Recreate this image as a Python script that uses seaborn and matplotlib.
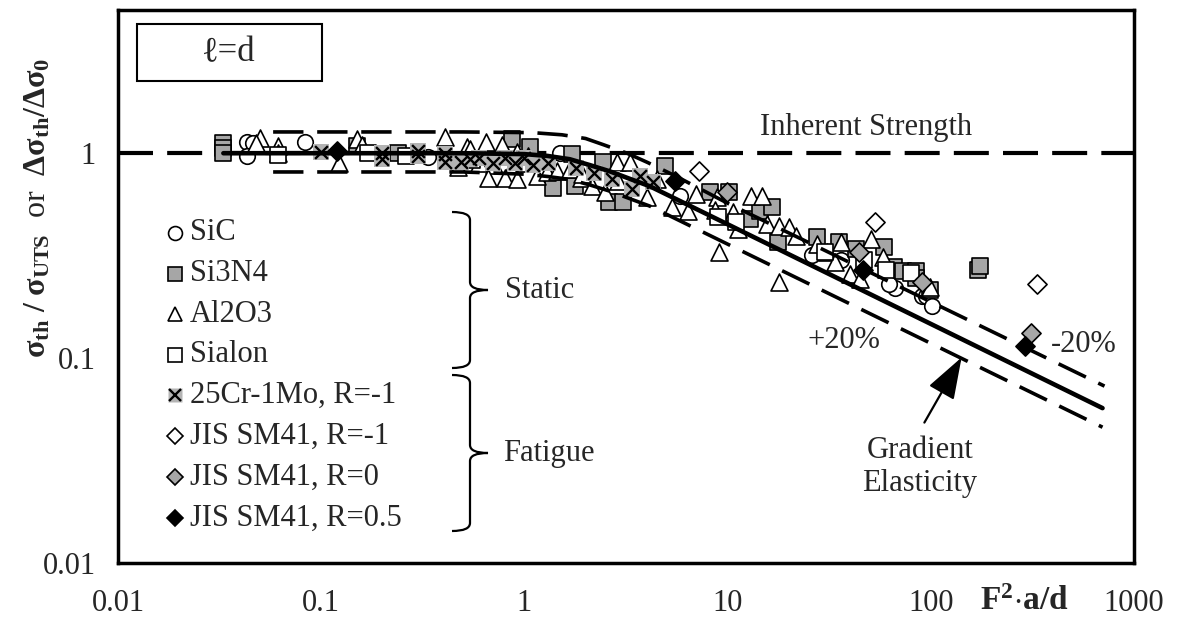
import numpy as np
import pandas as pd
import matplotlib
matplotlib.use('Agg')
import matplotlib.pyplot as plt
from matplotlib.path import Path
from matplotlib.patches import PathPatch, Rectangle
from matplotlib.lines import Line2D
import seaborn as sns

# ---- data (F^2 a/d , normalised strength) ----
sic_x = [0.043, 0.046, 0.043, 0.083, 0.335, 1.49, 5.8, 26, 36, 67, 90, 95, 101, 62]
sic_y = [1.14, 1.12, 0.97, 1.13, 0.96, 1.0, 0.62, 0.32, 0.30, 0.22, 0.20, 0.20, 0.18, 0.23]

si3n4_x = [0.033, 0.033, 0.033, 0.15, 0.24, 0.87, 1.06, 1.71, 1.38, 1.78, 2.43, 2.6, 3.05,
           4.9, 8.2, 10.2, 12.9, 14.4, 16.6, 17.7, 27.4, 35.5, 43, 59, 66, 72.6, 85, 85,
           98.6, 170, 175]
si3n4_y = [1.12, 1.06, 1.0, 1.08, 1.0, 1.17, 1.07, 0.99, 0.68, 0.69, 0.91, 0.58, 0.575,
           0.87, 0.645, 0.65, 0.476, 0.52, 0.545, 0.37, 0.39, 0.37, 0.34, 0.35, 0.277, 0.265,
           0.265, 0.247, 0.216, 0.27, 0.28]

al2o3_x = [0.050, 0.048, 0.061, 0.061, 0.122, 0.15, 0.159, 0.405, 0.47, 0.52, 0.54, 0.65,
           0.78, 0.92, 1.04, 0.6, 0.71, 0.88, 0.99, 0.66, 0.8, 0.92, 1.15, 1.29, 1.45, 1.67,
           1.89, 2.15, 1.93, 2.85, 3.3, 2.5, 2.9, 4.0, 4.5, 5.3, 6.4, 7.0, 8.9, 10.6, 8.7,
           13.1, 14.7, 11.3, 15.7, 17.9, 20, 9.1, 18, 21.8, 27.4, 30.7, 36.3, 33.7, 51, 58,
           40, 45, 98.6]
al2o3_y = [1.19, 1.12, 1.08, 1.0, 0.90, 1.17, 1.1, 1.2, 0.86, 1.07, 1.05, 1.13, 1.1, 1.01,
           0.97, 0.9, 0.88, 0.88, 0.9, 0.76, 0.76, 0.75, 0.77, 0.81, 0.82, 0.835, 0.76, 0.69,
           0.79, 0.91, 0.91, 0.645, 0.73, 0.61, 0.746, 0.545, 0.52, 0.63, 0.61, 0.515, 0.53,
           0.616, 0.616, 0.425, 0.45, 0.44, 0.435, 0.328, 0.234, 0.393, 0.36, 0.328, 0.367,
           0.296, 0.38, 0.31, 0.256, 0.242, 0.222]

sialon_x = [0.061, 0.17, 0.26, 0.55, 9.0, 11, 30, 47, 60, 80]
sialon_y = [0.98, 1.0, 0.97, 0.93, 0.49, 0.46, 0.33, 0.30, 0.27, 0.26]

cr_x = [0.1, 0.2, 0.2, 0.3, 0.3, 0.405, 0.405, 0.49, 0.54, 0.6, 0.7, 0.8, 0.9, 1.0, 1.1,
        1.3, 1.8, 2.2, 2.7, 3.4, 3.7, 4.3]
cr_y = [1.01, 1.0, 0.94, 1.02, 0.97, 0.99, 0.91, 0.91, 0.935, 0.95, 0.9, 0.95, 0.9, 0.95,
        0.88, 0.9, 0.85, 0.8, 0.75, 0.67, 0.77, 0.72]

jis_m1_x = [7.2, 53, 335]
jis_m1_y = [0.82, 0.46, 0.23]
jis_0_x = [9.9, 44.5, 90, 313]
jis_0_y = [0.645, 0.33, 0.234, 0.133]
jis_05_x = [0.12, 5.5, 46.5, 290]
jis_05_y = [1.02, 0.73, 0.27, 0.114]

# gradient elasticity curve and the two +-20% bands
ge_x = [0.033, 0.5, 1.0, 1.3, 1.67, 2.1, 2.63, 3.3, 4.14, 10, 700]
ge_y = [1.0, 1.0, 0.99, 0.97, 0.935, 0.875, 0.816, 0.75, 0.69, 0.45, 0.057]
up_x = [0.058, 0.5, 1.1, 1.53, 2.0, 2.45, 3.2, 4.05, 5.6, 10, 716]
up_y = [1.27, 1.27, 1.26, 1.23, 1.18, 1.10, 1.0, 0.90, 0.77, 0.57, 0.073]
lo_x = [0.058, 0.5, 1.0, 1.3, 1.67, 2.1, 2.63, 3.3, 4.14, 10, 700]
lo_y = [0.81, 0.81, 0.79, 0.77, 0.745, 0.70, 0.653, 0.60, 0.552, 0.36, 0.046]

labels = ['SiC', 'Si3N4', 'Al2O3', 'Sialon', '25Cr-1Mo, R=-1',
          'JIS SM41, R=-1', 'JIS SM41, R=0', 'JIS SM41, R=0.5']

sns.set_style('white')
plt.rcParams['font.family'] = ['Liberation Serif', 'DejaVu Serif']
plt.rcParams['mathtext.fontset'] = 'custom'
plt.rcParams['mathtext.rm'] = 'Liberation Serif'
plt.rcParams['mathtext.bf'] = 'Liberation Serif:bold'
plt.rcParams['mathtext.it'] = 'Liberation Serif:italic'

W, H = 1177, 618
L, R, T, B = 118, 1134, 10, 563
fig = plt.figure(figsize=(W / 100, H / 100), dpi=100)
ax = fig.add_axes([L / W, 1 - B / H, (R - L) / W, (B - T) / H])

gray = '#a6a6a6'
ms = 125

# markers
sns.scatterplot(x=sic_x, y=sic_y, marker='o', s=ms, color='white', edgecolor='black', linewidth=1.2, ax=ax, zorder=3)
sns.scatterplot(x=si3n4_x, y=si3n4_y, marker='s', s=ms, color=gray, edgecolor='black', linewidth=1.2, ax=ax, zorder=3)
sns.scatterplot(x=al2o3_x, y=al2o3_y, marker='^', s=150, color='white', edgecolor='black', linewidth=1.2, ax=ax, zorder=3)
sns.scatterplot(x=sialon_x, y=sialon_y, marker='s', s=ms, color='white', edgecolor='black', linewidth=1.2, ax=ax, zorder=3)
sns.scatterplot(x=cr_x, y=cr_y, marker='s', s=ms, color='#b4b4b4', linewidth=0, ax=ax, zorder=3)
ax.scatter(cr_x, cr_y, marker='x', s=85, color='black', linewidth=1.7, zorder=3)
sns.scatterplot(x=jis_m1_x, y=jis_m1_y, marker='D', s=95, color='white', edgecolor='black', linewidth=1.2, ax=ax, zorder=3)
sns.scatterplot(x=jis_0_x, y=jis_0_y, marker='D', s=95, color=gray, edgecolor='black', linewidth=1.2, ax=ax, zorder=3)
sns.scatterplot(x=jis_05_x, y=jis_05_y, marker='D', s=95, color='black', edgecolor='black', linewidth=1.2, ax=ax, zorder=3)

# lines
ax.axhline(1, color='black', lw=3, dashes=(8.4, 3.4), zorder=2)
ax.plot(ge_x, ge_y, color='black', lw=3.3, zorder=4)
ax.plot(up_x, up_y, color='black', lw=2.6, dashes=(8.4, 3.8), zorder=4)
ax.plot(lo_x, lo_y, color='black', lw=2.6, dashes=(8.4, 3.8), zorder=4)

ax.set_xscale('log')
ax.set_yscale('log')
ax.set_xlim(0.01, 1000)
ax.set_ylim(0.01, 5)
ax.set_xticks([0.01, 0.1, 1, 10, 100, 1000])
ax.set_xticklabels(['0.01', '0.1', '1', '10', '100', '1000'])
ax.set_yticks([0.01, 0.1, 1])
ax.set_yticklabels(['0.01', '0.1', '1'])
ax.tick_params(which='major', direction='inout', length=12, width=2.2, labelsize=22, color='black')
ax.tick_params(axis='x', which='major', pad=13)
ax.tick_params(axis='y', which='major', pad=10)
ax.tick_params(which='minor', direction='in', length=7, width=2.0, color='black')
for sp in ax.spines.values():
    sp.set_linewidth(2.5)
    sp.set_color('black')
ax.set_xlabel('')
ax.set_ylabel('')


def fx(x):
    return x / W


def fy(y):
    return 1 - y / H


# axis titles
fig.text(fx(38), fy(208), r'$\mathbf{\sigma_{th}\ /\ \sigma_{UTS}}$  or  $\mathbf{\Delta\sigma_{th}/\Delta\sigma_{0}}$',
         rotation=90, ha='center', va='center', fontsize=23)
fig.text(fx(980), fy(602), r'$\mathbf{F^{2}{\cdot}a/d}$', ha='left', va='center', fontsize=24)

# l=d box
fig.add_artist(Rectangle((fx(137), fy(81)), fx(322) - fx(137), fy(24) - fy(81),
                         transform=fig.transFigure, fill=False, lw=1.5, ec='black'))
fig.text(fx(229), fy(53), '\u2113=d', ha='center', va='center', fontsize=25)

# legend
rows = [233, 274, 314, 355, 395, 436, 477, 518]
styles = [('o', 'white', 10), ('s', gray, 10), ('^', 'white', 10), ('s', 'white', 10),
          ('s', '#b4b4b4', 10), ('D', 'white', 8.5), ('D', gray, 8.5), ('D', 'black', 8.5)]
for yy, lab, (m, fc, sz) in zip(rows, labels, styles):
    if lab.startswith('25Cr'):
        fig.add_artist(Line2D([fx(175)], [fy(yy)], marker='s', ms=sz, mfc=fc, mec='none', ls='none'))
        fig.add_artist(Line2D([fx(175)], [fy(yy)], marker='x', ms=8, mec='black', mew=1.7, ls='none'))
    else:
        fig.add_artist(Line2D([fx(175)], [fy(yy)], marker=m, ms=sz, mfc=fc, mec='black', mew=1.2, ls='none'))
    fig.text(fx(190), fy(yy), lab, ha='left', va='center', fontsize=22)


def brace(xl, ytop, ybot, ytip, w=18, tip=18, r=8):
    xv = xl + w
    pts = [(xl, ytop), (xv, ytop), (xv, ytop + r),
           (xv, ytip - r),
           (xv, ytip), (xv + tip, ytip),
           (xv, ytip), (xv, ytip + r),
           (xv, ybot - r),
           (xv, ybot), (xl, ybot)]
    codes = [Path.MOVETO, Path.CURVE3, Path.CURVE3, Path.LINETO,
             Path.CURVE3, Path.CURVE3, Path.CURVE3, Path.CURVE3,
             Path.LINETO, Path.CURVE3, Path.CURVE3]
    pts = [(fx(a), fy(b)) for a, b in pts]
    fig.add_artist(PathPatch(Path(pts, codes), transform=fig.transFigure, fill=False, lw=1.6, ec='black'))


brace(452, 212, 368, 290)
brace(452, 375, 531, 453)
fig.text(fx(505), fy(290), 'Static', ha='left', va='center', fontsize=22)
fig.text(fx(503), fy(453), 'Fatigue', ha='left', va='center', fontsize=22)

# annotations
fig.text(fx(866), fy(127), 'Inherent Strength', ha='center', va='center', fontsize=22)
fig.text(fx(844), fy(340), '+20%', ha='center', va='center', fontsize=22)
fig.text(fx(1084), fy(344), '-20%', ha='center', va='center', fontsize=22)
fig.text(fx(920), fy(467), 'Gradient\nElasticity', ha='center', va='center', fontsize=22, linespacing=1.2)
ax.annotate('', xy=(963, H - 355), xycoords='figure pixels', xytext=(923, H - 425), textcoords='figure pixels',
            arrowprops=dict(arrowstyle='-|>,head_length=1.3,head_width=0.45', lw=1.6, color='black', mutation_scale=20))

fig.savefig('out.png', dpi=100)
